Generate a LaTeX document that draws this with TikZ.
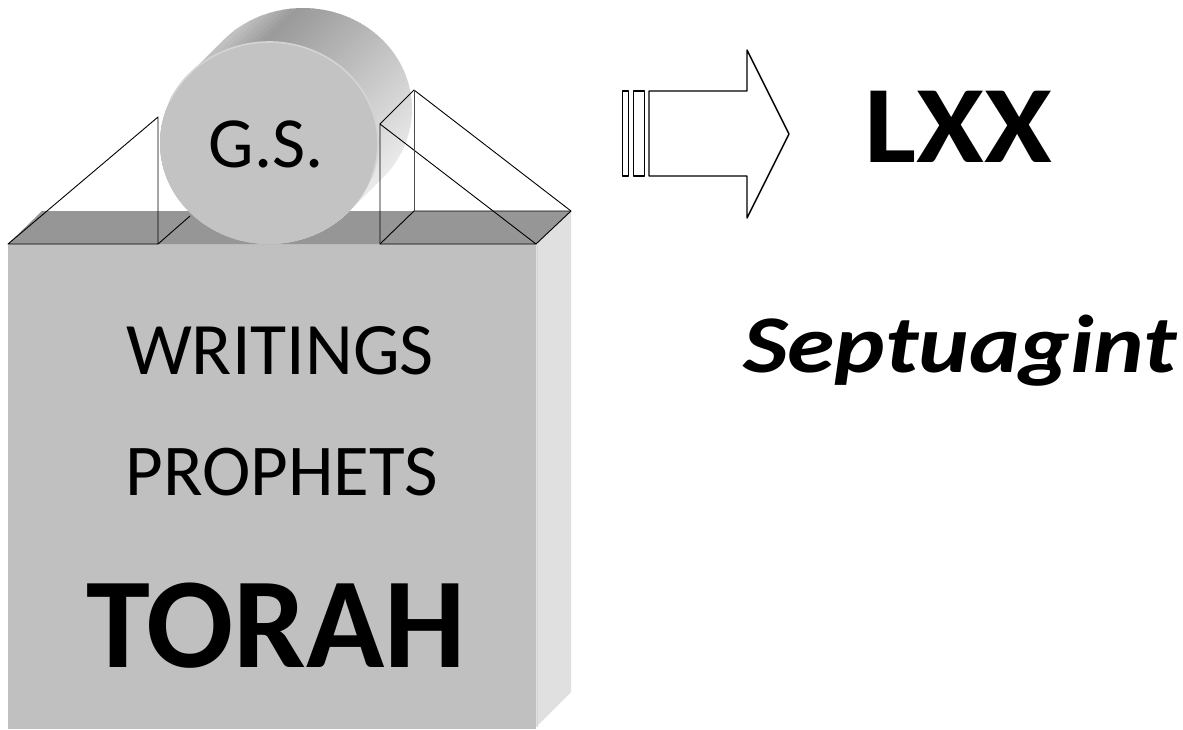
\documentclass[tikz,border=0pt]{standalone}
\usepackage{fontspec}
\setmainfont{Carlito}
\definecolor{frontgray}{HTML}{C0C0C0}
\definecolor{topgray}{HTML}{969696}
\definecolor{sidegray}{HTML}{E0E0E0}
\definecolor{cylfront}{HTML}{C3C3C3}
\definecolor{rimgray}{HTML}{D4D4D4}
\begin{document}
\begin{tikzpicture}[x=1pt,y=-1pt,line join=round,
  edge/.style={draw=black,line width=0.9pt},
  arrowline/.style={draw=black,line width=1.4pt,fill=white},
  lbl/.style={anchor=base,inner sep=0pt,text=black}]
\fill[white] (0,0) rectangle (1183,729);
\useasboundingbox (0,0) rectangle (1183,729);
% block
\coordinate (FTL) at (8,244);
\coordinate (FTR) at (536,244);
\coordinate (BTL) at (42,211);
\coordinate (BTR) at (571,211);
\fill[frontgray] (FTL) rectangle (536,729);
\fill[sidegray] (FTR) -- (BTR) -- (571,692) -- (536,727) -- cycle;
\fill[topgray] (FTL) -- (BTL) -- (BTR) -- (FTR) -- cycle;
\draw[rimgray,line width=1pt] (537,245) -- (537,727);
% left prism
\coordinate (LA) at (8,244);
\coordinate (LB) at (158,244);
\coordinate (LC) at (158,117);
\coordinate (LD) at (190,216);
\draw[edge] (LA) -- (LC) -- (LB) -- cycle;
\draw[edge] (LB) -- (LD);
% cylinder
\coordinate (Fu) at (189,74.4);
\coordinate (Fl) at (349,211.6);
\coordinate (Bu) at (223,40.4);
\coordinate (Bl) at (383,177.6);
\begin{scope}
  \clip (Fu) -- (Bu) arc[start angle=222.8,end angle=402.8,x radius=109,y radius=101]
    -- (Fl) arc[start angle=42.8,end angle=222.8,x radius=109,y radius=101] -- cycle;
  \begin{scope}[shift={(286,126)},rotate=-45]
    \foreach \k in {0,...,53}{
      \pgfmathsetmacro{\s}{-108+4*\k}
      \pgfmathsetmacro{\g}{\s<-77 ? 198-(\s+108)/31*44 : 154+(\s+77)/185*82}
      \pgfmathsetmacro{\p}{(255-\g)/2.55}
      \fill[black!\p] (\s,-200) rectangle (\s+4.6,200);
    }
  \end{scope}
\end{scope}
\fill[cylfront] (269,143) ellipse[x radius=109,y radius=101];
\draw[rimgray,line width=1.6pt] (269,143) ++(205:109 and 101) arc[start angle=205,end angle=380,x radius=109,y radius=101];
\node[lbl,font=\fontsize{72}{80}\selectfont] (gs) at (266,167) {G.S.};
% right prism
\coordinate (RA) at (380,244);
\coordinate (RB) at (536,244);
\coordinate (RC) at (380,124);
\coordinate (RD) at (414,90);
\coordinate (RE) at (414,211);
\coordinate (RF) at (571,211);
\draw[edge] (RC) -- (RA) -- (RB) -- cycle;
\draw[edge] (RC) -- (RD) -- (RF) -- (RB);
\draw[edge] (RA) -- (RE) -- (RF);
\draw[edge,draw=black!70] (RD) -- (RE);
% labels on block
\node[lbl,font=\fontsize{74}{80}\selectfont] (writings) at (280,374) {WRITINGS};
\node[lbl,font=\fontsize{73}{80}\selectfont] (prophets) at (282,495) {PROPHETS};
\node[lbl,font=\bfseries\fontsize{129}{140}\selectfont] (torah) at (276,667) {TORAH};
% arrow
\draw[arrowline] (649,91) -- (747,91) -- (747,50) -- (789,134) -- (747,218) -- (747,176) -- (649,176) -- cycle;
\draw[arrowline] (622.7,91) rectangle (628.3,176);
\draw[arrowline] (633.3,91) rectangle (644.3,176);
% right texts
\node[lbl,font=\bfseries\fontsize{110}{120}\selectfont] (lxx) at (958,162) {\scalebox{1.12}[1]{LXX}};
\node[lbl,font=\bfseries\itshape\fontsize{82}{96}\selectfont] (sept) at (960,372) {\scalebox{1.17}[1]{Septuagint}};
\end{tikzpicture}
\end{document}
